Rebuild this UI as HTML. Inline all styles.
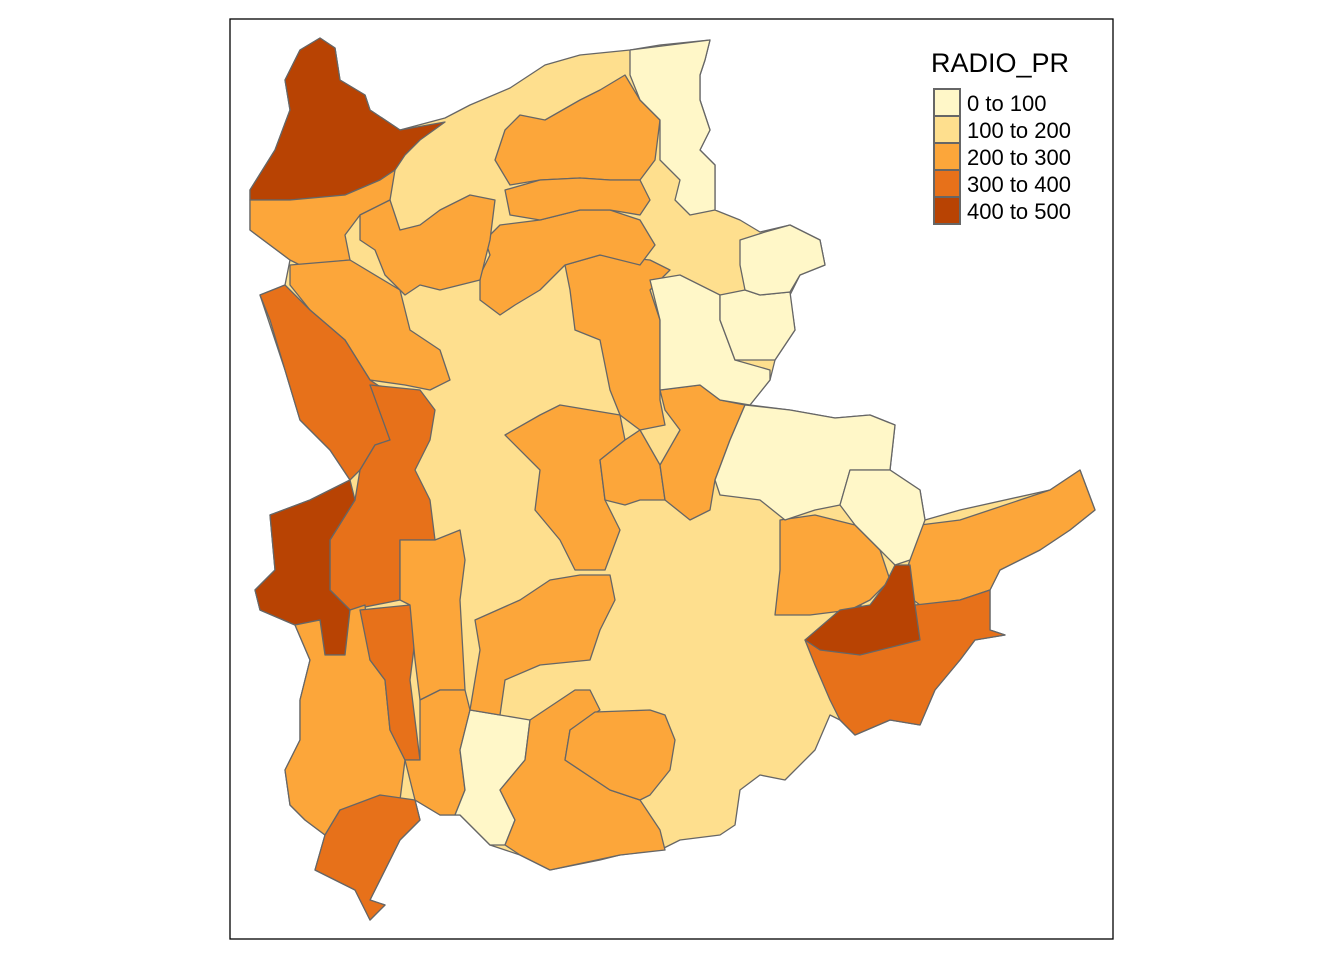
<!DOCTYPE html>
<html><head><meta charset="utf-8"><style>body{margin:0;background:#fff}svg{display:block}</style></head><body>
<svg width="1344" height="960" viewBox="0 0 1344 960" font-family="Liberation Sans, sans-serif">
<rect x="230" y="19" width="883" height="920" fill="#fff" stroke="#000" stroke-width="1.3"/>
<g stroke="#666" stroke-width="1.3" stroke-linejoin="round">
<polygon fill="#FEDF8E" points="250,190 275,150 290,110 285,80 300,50 320,38 335,48 340,80 365,95 370,110 400,130 445,118 470,105 510,88 545,65 580,55 630,50 660,45 710,40 705,60 700,75 700,100 710,130 700,150 715,165 715,210 740,220 760,232 790,225 820,240 825,265 800,275 790,295 795,330 775,360 770,380 750,405 790,410 835,418 870,415 895,425 890,470 920,490 925,520 960,510 1050,490 1080,470 1095,510 1070,530 1040,550 1000,570 990,590 990,630 1005,635 975,640 960,660 935,690 920,725 890,720 855,735 840,720 830,715 815,750 785,780 760,775 740,790 735,825 720,835 680,840 660,850 620,855 600,860 550,870 520,855 490,845 460,815 440,815 415,800 420,820 400,840 370,900 385,905 370,920 355,890 335,880 315,870 325,835 305,820 290,805 285,770 300,740 300,700 310,660 295,625 260,610 255,590 275,570 270,515 310,500 350,480 330,450 300,420 285,370 270,325 260,295 285,285 290,260 250,230"/>
<polygon fill="#B84303" points="250,190 275,150 290,110 285,80 300,50 320,38 335,48 340,80 365,95 370,110 400,130 445,122 420,140 405,155 395,170 380,180 345,195 290,200 250,200"/>
<polygon fill="#FCA63A" points="250,200 290,200 345,195 380,180 395,170 390,200 360,215 345,235 350,260 300,265 290,260 250,230"/>
<polygon fill="#FCA63A" points="290,265 350,260 400,290 410,330 440,350 450,380 430,390 405,385 370,380 345,340 310,310 290,285"/>
<polygon fill="#E7711A" points="260,295 285,285 310,310 345,340 370,380 385,390 390,440 375,445 360,470 350,480 330,450 300,420 285,370 270,320"/>
<polygon fill="#E7711A" points="370,385 420,390 435,410 430,440 415,470 430,500 435,540 400,540 400,600 350,610 330,590 330,540 355,500 360,470 375,445 390,440"/>
<polygon fill="#B84303" points="270,515 310,500 350,480 355,500 330,540 330,590 350,610 345,655 325,655 320,620 295,625 260,610 255,590 275,570"/>
<polygon fill="#FCA63A" points="295,625 320,620 325,655 345,655 350,610 365,605 370,660 385,680 390,730 405,760 400,800 370,810 340,810 325,835 305,820 290,805 285,770 300,740 300,700 310,660"/>
<polygon fill="#E7711A" points="360,610 410,605 415,640 410,680 420,760 405,760 390,730 385,680 370,660"/>
<polygon fill="#E7711A" points="325,835 340,810 380,795 415,800 420,820 400,840 370,900 385,905 370,920 355,890 335,880 315,870"/>
<polygon fill="#FCA63A" points="400,540 435,540 460,530 465,560 460,600 465,690 440,690 420,700 415,660 410,605 400,600"/>
<polygon fill="#FCA63A" points="420,700 440,690 465,690 470,710 460,750 465,790 455,815 440,815 415,800 405,760 420,760"/>
<polygon fill="#FFF7C8" points="470,710 500,715 530,720 525,760 500,790 515,820 505,845 490,845 460,815 455,815 465,790 460,750"/>
<polygon fill="#FCA63A" points="530,720 560,700 575,690 590,690 600,710 570,730 565,760 610,790 640,800 660,830 665,850 620,855 550,870 520,855 505,845 515,820 500,790 525,760"/>
<polygon fill="#FCA63A" points="595,712 650,710 665,715 675,740 670,770 650,795 640,800 610,790 565,760 570,730"/>
<polygon fill="#FCA63A" points="475,620 520,600 550,580 580,575 610,575 615,600 600,630 590,660 540,665 505,680 500,715 470,710 480,650"/>
<polygon fill="#FCA63A" points="505,435 540,415 560,405 590,410 620,415 625,440 600,460 605,500 620,530 605,570 575,570 560,540 535,510 540,470"/>
<polygon fill="#FCA63A" points="600,460 625,440 640,430 660,465 665,500 640,500 625,505 605,500"/>
<polygon fill="#FCA63A" points="660,390 700,385 720,400 745,405 730,440 715,480 710,510 690,520 665,500 660,465 680,430 665,410"/>
<polygon fill="#FCA63A" points="565,265 600,255 650,260 670,270 650,290 660,320 660,400 665,425 640,430 620,415 610,390 600,340 575,330 570,290"/>
<polygon fill="#FCA63A" points="480,275 490,255 485,240 500,225 540,220 580,210 610,210 640,220 655,245 640,265 600,255 565,265 540,290 515,305 500,315 480,300"/>
<polygon fill="#FCA63A" points="495,160 505,130 520,115 545,120 580,100 600,90 625,75 640,100 660,120 655,160 640,180 610,180 580,178 540,180 510,185"/>
<polygon fill="#FCA63A" points="505,190 540,180 580,178 610,180 640,180 650,200 640,215 610,210 580,210 540,220 510,215"/>
<polygon fill="#FCA63A" points="360,215 390,200 400,230 420,225 440,210 470,195 495,200 490,240 480,280 440,290 420,285 405,295 385,275 375,250 360,240"/>
<polygon fill="#FCA63A" points="780,520 815,515 855,525 880,550 890,580 870,600 850,610 810,615 775,615 780,570"/>
<polygon fill="#FCA63A" points="920,525 960,520 1050,490 1080,470 1095,510 1070,530 1040,550 1000,570 990,590 960,600 920,605 900,590 910,560"/>
<polygon fill="#E7711A" points="805,640 840,615 860,605 880,620 915,605 960,600 990,590 990,630 1005,635 975,640 960,660 935,690 920,725 890,720 855,735 840,720 830,700 815,665"/>
<polygon fill="#B84303" points="805,640 840,610 870,605 885,585 895,565 910,565 915,605 920,640 900,645 880,650 860,655 820,650"/>
<polygon fill="#FFF7C8" points="630,50 710,40 705,60 700,75 700,100 710,130 700,150 715,165 715,210 690,215 675,200 680,180 660,160 660,120 640,100 630,75"/>
<polygon fill="#FFF7C8" points="650,280 680,275 720,295 720,320 735,360 770,370 770,380 750,405 720,400 700,385 660,390 660,320"/>
<polygon fill="#FFF7C8" points="720,295 745,290 760,295 790,292 795,330 775,360 735,360 720,320"/>
<polygon fill="#FFF7C8" points="740,240 765,232 790,225 820,240 825,265 800,275 790,292 760,295 745,290 740,265"/>
<polygon fill="#FFF7C8" points="745,405 790,410 835,418 870,415 895,425 890,470 850,470 840,505 815,510 785,520 760,500 720,495 715,480 730,440"/>
<polygon fill="#FFF7C8" points="850,470 890,470 920,490 925,520 910,560 895,565 880,550 855,525 840,505"/>
</g>
<text x="931" y="72" font-size="27" fill="#000">RADIO_PR</text>
<g stroke="#666" stroke-width="2">
<rect x="934" y="89" width="26" height="27" fill="#FFF7C8"/>
<rect x="934" y="116" width="26" height="27" fill="#FEDF8E"/>
<rect x="934" y="143" width="26" height="27" fill="#FCA63A"/>
<rect x="934" y="170" width="26" height="27" fill="#E7711A"/>
<rect x="934" y="197" width="26" height="27" fill="#B84303"/>
</g>
<g font-size="22" fill="#000">
<text x="967" y="111">0 to 100</text>
<text x="967" y="138">100 to 200</text>
<text x="967" y="165">200 to 300</text>
<text x="967" y="192">300 to 400</text>
<text x="967" y="219">400 to 500</text>
</g>
</svg>
</body></html>
